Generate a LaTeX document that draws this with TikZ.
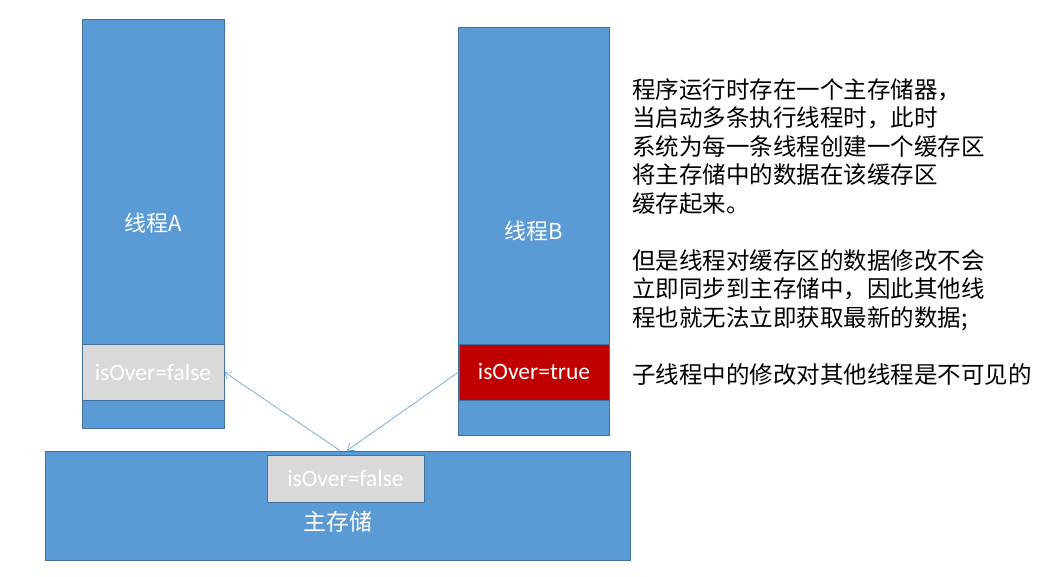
\documentclass[tikz,border=0pt]{standalone}
\usepackage{fontspec}
\setmainfont{Carlito}
\newfontfamily\cjk{Noto Sans CJK SC}
\usetikzlibrary{arrows.meta, positioning}
\definecolor{azul}{HTML}{5B9BD5}
\definecolor{borde}{HTML}{41719C}
\definecolor{gris}{HTML}{D9D9D9}
\definecolor{rojo}{HTML}{C00000}
\tikzset{
    hilo/.style={rectangle, draw=borde, fill=azul, line width=0.75pt, inner sep=0pt,
        text=white, font=\cjk\fontsize{22}{26}\selectfont},
    memoria/.style={hilo},
    bandera/.style={rectangle, draw=borde, fill=gris, line width=0.75pt, inner sep=0pt,
        text=white, font=\fontsize{23.5}{28}\selectfont},
    alerta/.style={bandera, fill=rojo},
    etiqueta/.style={text=white, inner sep=0pt, font=\cjk\fontsize{23}{27}\selectfont},
    texto/.style={align=left, inner sep=0pt, font=\cjk\fontsize{23.5}{28.5}\selectfont},
    flecha/.style={draw=azul, line width=0.6pt, -{Straight Barb[length=6pt, width=9pt]}}}

\begin{document}
\begin{tikzpicture}[x=1pt, y=-1pt]
    \useasboundingbox (0,0) rectangle (1055,577);
    % hilos
    \node (hiloA) [hilo, minimum width=142, minimum height=409] at (153,223.5) {线程A};
    \node (hiloB) [hilo, minimum width=151, minimum height=408] at (533.5,231) {线程B};
    \node (banA) [bandera, minimum width=142, minimum height=56] at (153,372) {isOver=false};
    \node (banB) [alerta, minimum width=150, minimum height=56] at (534,372) {isOver=true};
    % memoria principal
    \node (mem) [memoria, minimum width=585, minimum height=109] at (337.5,505.5) {};
    \node (banM) [bandera, minimum width=157, minimum height=47] at (345.5,478.5) {isOver=false};
    \node (lblM) [etiqueta] at (338,522) {主存储};
    % flechas
    \draw[flecha] ([xshift=2.5pt]mem.north) -- (banA.east);
    \draw[flecha] (banB.west) -- ([xshift=9.5pt]mem.north);
    % texto
    \node (nota) [texto, anchor=base west] at (632,383) {程序运行时存在一个主存储器，\\
        当启动多条执行线程时，此时\\
        系统为每一条线程创建一个缓存区\\
        将主存储中的数据在该缓存区\\
        缓存起来。\\[28.5pt]
        但是线程对缓存区的数据修改不会\\
        立即同步到主存储中，因此其他线\\
        程也就无法立即获取最新的数据;\\[28.5pt]
        子线程中的修改对其他线程是不可见的};
\end{tikzpicture}
\end{document}
